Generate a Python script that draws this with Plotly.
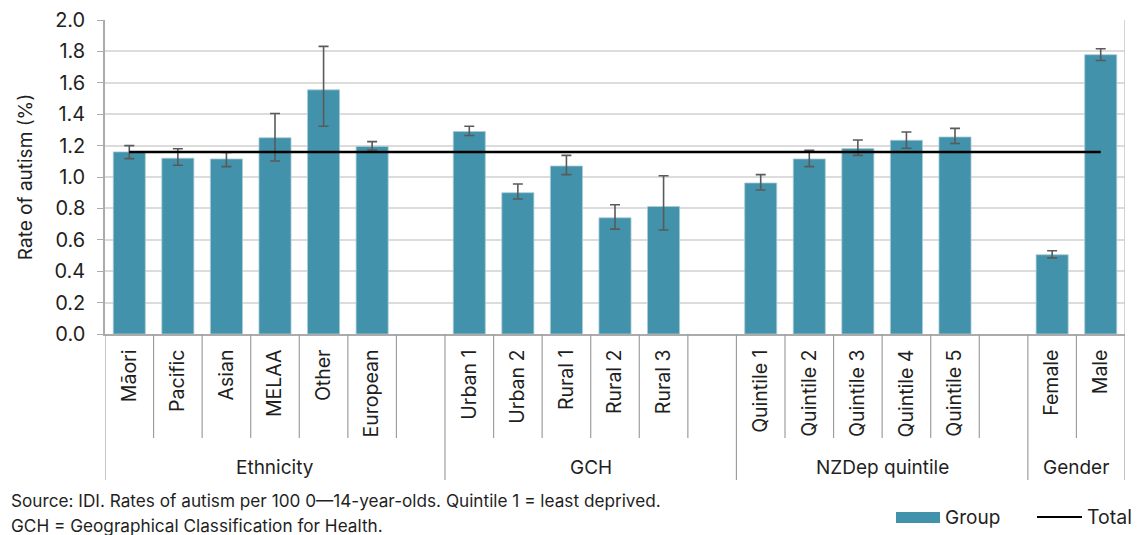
import plotly.graph_objects as go

# Autism rates (%) by group, with 95% confidence limits
ETHNICITY = ["Māori", "Pacific", "Asian", "MELAA", "Other", "European"]
ETHNICITY_RATE = [1.16, 1.12, 1.115, 1.25, 1.555, 1.195]
ETHNICITY_LOW = [1.117, 1.075, 1.066, 1.102, 1.323, 1.172]
ETHNICITY_HIGH = [1.20, 1.18, 1.157, 1.404, 1.832, 1.225]

GCH = ["Urban 1", "Urban 2", "Rural 1", "Rural 2", "Rural 3"]
GCH_RATE = [1.29, 0.90, 1.07, 0.74, 0.812]
GCH_LOW = [1.264, 0.86, 1.015, 0.668, 0.662]
GCH_HIGH = [1.323, 0.955, 1.138, 0.823, 1.008]

NZDEP = ["Quintile 1", "Quintile 2", "Quintile 3", "Quintile 4", "Quintile 5"]
NZDEP_RATE = [0.962, 1.115, 1.181, 1.234, 1.255]
NZDEP_LOW = [0.917, 1.066, 1.138, 1.183, 1.213]
NZDEP_HIGH = [1.015, 1.17, 1.236, 1.287, 1.31]

GENDER = ["Female", "Male"]
GENDER_RATE = [0.505, 1.779]
GENDER_LOW = [0.485, 1.742]
GENDER_HIGH = [0.53, 1.817]

GROUP_NAMES = ["Ethnicity", "GCH", "NZDep quintile", "Gender"]
TOTAL_RATE = 1.16

Y_TICKS = [0.0, 0.2, 0.4, 0.6, 0.8, 1.0, 1.2, 1.4, 1.6, 1.8, 2.0]

SOURCE_LINES = [
    "Source: IDI. Rates of autism per 100 0\u201414-year-olds. Quintile 1 = least deprived.",
    "GCH = Geographical Classification for Health.",
]

# ---- lay groups out on a slot axis, one blank slot between groups ----
groups = [
    (ETHNICITY, ETHNICITY_RATE, ETHNICITY_LOW, ETHNICITY_HIGH),
    (GCH, GCH_RATE, GCH_LOW, GCH_HIGH),
    (NZDEP, NZDEP_RATE, NZDEP_LOW, NZDEP_HIGH),
    (GENDER, GENDER_RATE, GENDER_LOW, GENDER_HIGH),
]

xs, labels, rates, lows, highs = [], [], [], [], []
group_spans = []  # (start boundary, end boundary)
slot = 0
for gi, (cats, r, lo, hi) in enumerate(groups):
    start = slot - 0.5
    for c, v, l, h in zip(cats, r, lo, hi):
        xs.append(slot)
        labels.append(c)
        rates.append(v)
        lows.append(l)
        highs.append(h)
        slot += 1
    if gi < len(groups) - 1:
        slot += 1  # blank slot closing the group
    group_spans.append((start, slot - 0.5))
n_slots = slot

# ---- page geometry (pixels) ----
W, H = 1146, 535
L, R, T, B = 105, 21, 20, 201
PLOT_H = H - T - B
AXIS_Y = H - B


def py(p):
    """Pixel row -> paper y."""
    return (AXIS_Y - p) / PLOT_H


def px(p):
    """Pixel column -> paper x."""
    return (p - L) / (W - L - R)


FONT = "Inter"
TEXT = "#1f1f1f"
TEAL = "#4192AA"
AXIS_GREY = "#ABABAB"

fig = go.Figure()

fig.add_trace(go.Bar(
    name="Group",
    x=xs,
    y=rates,
    width=0.66,
    marker=dict(color=TEAL, line=dict(color="#A9CCD7", width=0.8)),
    error_y=dict(
        type="data",
        symmetric=False,
        array=[h - v for h, v in zip(highs, rates)],
        arrayminus=[v - l for v, l in zip(rates, lows)],
        color="#5a5a5a",
        thickness=1.6,
        width=5,
    ),
    showlegend=False,
))

fig.add_trace(go.Scatter(
    name="Total",
    x=[xs[0], xs[-1]],
    y=[TOTAL_RATE, TOTAL_RATE],
    mode="lines",
    line=dict(color="black", width=2.5),
    showlegend=False,
))

shapes = []
# category dividers (short) and group dividers (long)
group_edges = {round(s, 1) for s, _ in group_spans} | {round(e, 1) for _, e in group_spans}
for k in range(n_slots + 1):
    b = k - 0.5
    if round(b, 1) in group_edges:
        y1 = py(480)
    else:
        y1 = py(438)
    shapes.append(dict(type="line", xref="x", yref="paper", x0=b, x1=b,
                       y0=0, y1=y1, line=dict(color="#9E9E9E", width=1.2)))
# right-hand frame edge up to the top of the plot
shapes.append(dict(type="line", xref="x", yref="paper", x0=n_slots - 0.5, x1=n_slots - 0.5,
                   y0=0, y1=1, line=dict(color="#C4C4C4", width=1.5)))

annotations = []
for name, (s, e) in zip(GROUP_NAMES, group_spans):
    annotations.append(dict(
        text=name, x=(s + e) / 2, xref="x", y=py(467), yref="paper",
        showarrow=False, xanchor="center", yanchor="middle",
        font=dict(family=FONT, size=19, color=TEXT),
    ))
for i, line in enumerate(SOURCE_LINES):
    annotations.append(dict(
        text=line, x=px(9), xref="paper", y=py(500 + 25 * i), yref="paper",
        showarrow=False, xanchor="left", yanchor="middle",
        font=dict(family=FONT, size=17.2, color=TEXT),
    ))

# legend drawn by hand: wide swatch for the bars, line for the total
shapes.append(dict(type="rect", xref="paper", yref="paper",
                   x0=px(896), x1=px(940), y0=py(523), y1=py(512),
                   fillcolor=TEAL, line=dict(width=0)))
shapes.append(dict(type="line", xref="paper", yref="paper",
                   x0=px(1037), x1=px(1082), y0=py(517), y1=py(517),
                   line=dict(color="black", width=2)))
annotations.append(dict(text="Group", x=px(943), xref="paper", y=py(517), yref="paper",
                        showarrow=False, xanchor="left", yanchor="middle",
                        font=dict(family=FONT, size=19, color=TEXT)))
annotations.append(dict(text="Total", x=px(1085), xref="paper", y=py(517), yref="paper",
                        showarrow=False, xanchor="left", yanchor="middle",
                        font=dict(family=FONT, size=19.5, color=TEXT)))

fig.update_layout(
    width=W, height=H,
    margin=dict(l=L, r=R, t=T, b=B, autoexpand=False),
    paper_bgcolor="white",
    plot_bgcolor="white",
    font=dict(family=FONT, color=TEXT),
    shapes=shapes,
    annotations=annotations,
    bargap=0.34,
)

fig.update_xaxes(
    range=[-0.5, n_slots - 0.5],
    tickmode="array",
    tickvals=xs,
    ticktext=labels,
    tickangle=-90,
    ticks="",
    ticklabelstandoff=6,
    tickfont=dict(family=FONT, size=19.5, color=TEXT),
    showgrid=False,
    zeroline=False,
    showline=True,
    linecolor=AXIS_GREY,
    linewidth=1.5,
    automargin=False,
)

fig.update_yaxes(
    range=[0, 2],
    tickmode="array",
    tickvals=Y_TICKS,
    ticktext=[f"{v:.1f}" for v in Y_TICKS],
    ticks="outside",
    ticklen=6,
    tickcolor=AXIS_GREY,
    ticklabelstandoff=8,
    tickfont=dict(family=FONT, size=20, color=TEXT),
    showgrid=True,
    gridcolor="#DCDCDC",
    gridwidth=1.5,
    zeroline=False,
    showline=True,
    linecolor=AXIS_GREY,
    linewidth=1.5,
    title=dict(text="Rate of autism (%)", font=dict(family=FONT, size=19, color=TEXT), standoff=17),
    automargin=False,
)

fig.write_html("out.html")
